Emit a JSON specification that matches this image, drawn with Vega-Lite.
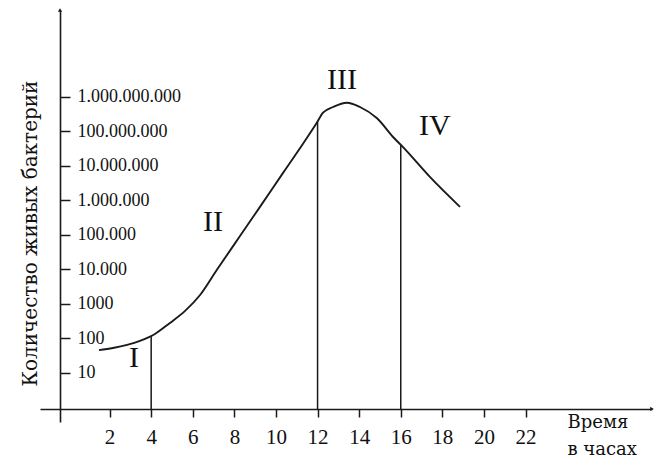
{
  "$schema": "https://vega.github.io/schema/vega-lite/v6.json",
  "width": 612,
  "height": 412,
  "autosize": {"type": "none"},
  "padding": {"left": 40, "top": 10, "right": 3, "bottom": 39},
  "background": "white",
  "config": {"view": {"stroke": null}},
  "datasets": {
    "curve": [
      {"t": 1.49, "n": 46},
      {"t": 2.16, "n": 53},
      {"t": 2.84, "n": 65},
      {"t": 3.46, "n": 85},
      {"t": 4.18, "n": 135},
      {"t": 4.9, "n": 282},
      {"t": 5.63, "n": 630},
      {"t": 6.35, "n": 1820},
      {"t": 7.16, "n": 9800},
      {"t": 8.27, "n": 93000},
      {"t": 9.23, "n": 650000},
      {"t": 10.34, "n": 6300000},
      {"t": 11.3, "n": 44000000},
      {"t": 11.97, "n": 180000000},
      {"t": 12.26, "n": 350000000},
      {"t": 12.74, "n": 510000000},
      {"t": 13.41, "n": 680000000},
      {"t": 14.04, "n": 510000000},
      {"t": 14.86, "n": 240000000},
      {"t": 15.63, "n": 69000000},
      {"t": 16.11, "n": 35000000},
      {"t": 17.4, "n": 4800000},
      {"t": 18.85, "n": 650000}
    ],
    "rules": [
      {"t": 4, "n": 0.906, "n2": 120},
      {"t": 12, "n": 0.906, "n2": 190000000},
      {"t": 16, "n": 0.906, "n2": 40000000}
    ],
    "phases": [
      {"t": 3.17, "n": 27, "label": "I"},
      {"t": 6.97, "n": 240000, "label": "II"},
      {"t": 13.17, "n": 3100000000, "label": "III"},
      {"t": 17.64, "n": 145000000, "label": "IV"}
    ],
    "arrows": [
      {"t": -0.385, "n": 330000000000, "dir": "up"},
      {"t": 28.08, "n": 0.906, "dir": "right"}
    ]
  },
  "encoding": {
    "x": {
      "field": "t",
      "type": "quantitative",
      "scale": {"domain": [-1.346, 28.08], "nice": false, "zero": false},
      "axis": {
        "offset": -13,
        "values": [2, 4, 6, 8, 10, 12, 14, 16, 18, 20, 22],
        "grid": false,
        "tickSize": 8,
        "tickWidth": 1.5,
        "tickColor": "#1a1a1a",
        "domainColor": "#1a1a1a",
        "domainWidth": 1.6,
        "labelPadding": 9,
        "labelFont": "Liberation Serif",
        "labelFontSize": 21,
        "labelColor": "#111111",
        "labelBaseline": "top",
        "labelFlush": false,
        "labelOverlap": false,
        "title": ["Время", "в часах"],
        "titleFont": "DejaVu Serif",
        "titleFontSize": 18,
        "titleFontWeight": "normal",
        "titleColor": "#111111",
        "titleX": 527,
        "titleY": 4,
        "titleAlign": "left",
        "titleAnchor": "start",
        "titleBaseline": "top",
        "titleLineHeight": 27
      }
    },
    "y": {
      "field": "n",
      "type": "quantitative",
      "scale": {"type": "log", "domain": [0.38, 330000000000], "nice": false},
      "axis": {
        "offset": -20,
        "values": [10, 100, 1000, 10000, 100000, 1000000, 10000000, 100000000, 1000000000],
        "grid": false,
        "tickSize": -10,
        "tickWidth": 1.5,
        "tickColor": "#1a1a1a",
        "domainColor": "#1a1a1a",
        "domainWidth": 1.6,
        "labelPadding": -7,
        "labelAlign": "left",
        "labelBaseline": "middle",
        "labelFont": "Liberation Serif",
        "labelFontSize": 18,
        "labelColor": "#111111",
        "labelFlush": false,
        "labelOverlap": false,
        "labelBound": false,
        "labelExpr": "datum.value >= 5e8 ? '1.000.000.000' : datum.value >= 5e7 ? '100.000.000' : datum.value >= 5e6 ? '10.000.000' : datum.value >= 5e5 ? '1.000.000' : datum.value >= 5e4 ? '100.000' : datum.value >= 5e3 ? '10.000' : datum.value >= 500 ? '1000' : datum.value >= 50 ? '100' : '10'",
        "title": "Количество живых бактерий",
        "titleFont": "DejaVu Serif",
        "titleFontSize": 20,
        "titleFontWeight": "normal",
        "titleColor": "#111111",
        "titleX": -30,
        "titleY": 223,
        "titleAngle": -90,
        "titleAlign": "center",
        "titleBaseline": "middle"
      }
    }
  },
  "layer": [
    {
      "data": {"name": "curve"},
      "mark": {"type": "line", "interpolate": "monotone", "color": "#1a1a1a", "strokeWidth": 1.9}
    },
    {
      "data": {"name": "rules"},
      "mark": {"type": "rule", "color": "#1a1a1a", "strokeWidth": 1.5},
      "encoding": {"y2": {"field": "n2"}}
    },
    {
      "data": {"name": "phases"},
      "mark": {"type": "text", "font": "Liberation Serif", "fontSize": 30, "color": "#111111", "align": "center", "baseline": "middle"},
      "encoding": {"text": {"field": "label"}}
    },
    {
      "data": {"name": "arrows"},
      "mark": {"type": "point", "filled": true, "color": "#1a1a1a", "size": 18, "opacity": 1},
      "encoding": {
        "shape": {"field": "dir", "type": "nominal", "scale": {"domain": ["up", "right"], "range": ["triangle-up", "triangle-right"]}, "legend": null}
      }
    }
  ]
}
